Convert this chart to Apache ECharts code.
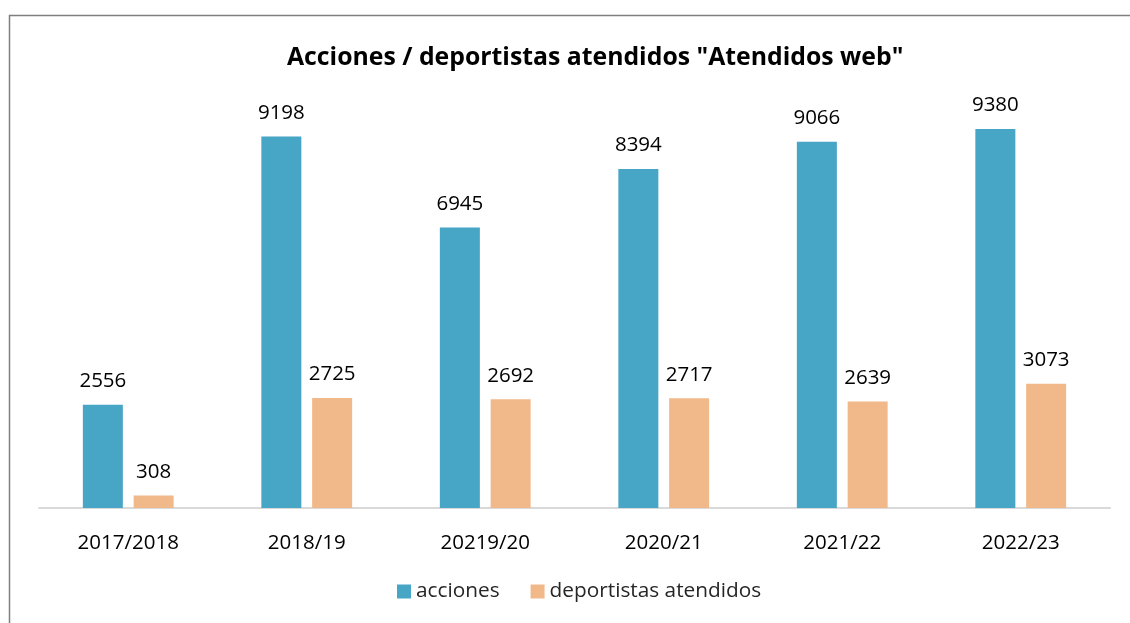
<!DOCTYPE html>
<html>
<head>
<meta charset="UTF-8">
<title>Acciones / deportistas atendidos</title>
<script src="https://cdn.jsdelivr.net/npm/echarts@6/dist/echarts.min.js"></script>
<style>
  html, body { margin: 0; padding: 0; background: #fff; }
  #chart { width: 1130px; height: 623px; }
</style>
</head>
<body>
<div id="chart"></div>
<script>
var temporadas = ['2017/2018', '2018/19', '20219/20', '2020/21', '2021/22', '2022/23'];
var acciones = [2556, 9198, 6945, 8394, 9066, 9380];
var deportistas = [308, 2725, 2692, 2717, 2639, 3073];

var fuente = '"Open Sans", "Noto Sans", sans-serif';
var myChart = echarts.init(document.getElementById('chart'));

// el cuadro original es mas ancho que la ventana: titulo y leyenda van centrados en x=595
var option = {
    animation: false,
    textStyle: { fontFamily: fuente },
    title: {
        text: 'Acciones / deportistas atendidos "Atendidos web"',
        left: 282,
        top: 40,
        textStyle: { fontSize: 24.8, fontWeight: 'bold', color: '#000', fontFamily: fuente }
    },
    legend: {
        data: ['acciones', 'deportistas atendidos'],
        bottom: 16,
        left: 392,
        itemWidth: 14,
        itemHeight: 14,
        itemGap: 31,
        icon: 'rect',
        textStyle: { fontSize: 20.8, color: '#262626', fontFamily: fuente }
    },
    grid: {
        left: 39,
        right: 20,
        top: 104,
        bottom: 115
    },
    xAxis: {
        type: 'category',
        data: temporadas,
        axisLine: { lineStyle: { color: '#d9d9d9', width: 2 } },
        axisTick: { show: false },
        axisLabel: { fontSize: 20.5, color: '#000', margin: 25, fontFamily: fuente }
    },
    yAxis: {
        type: 'value',
        min: 0,
        max: 10000,
        show: false,
        splitLine: { show: false }
    },
    series: [
        {
            name: 'acciones',
            type: 'bar',
            data: acciones,
            barWidth: 40,
            barGap: '27%',
            itemStyle: { color: '#47a5c5' },
            label: { show: true, position: 'top', distance: 13, fontSize: 20.5, color: '#000', fontFamily: fuente }
        },
        {
            name: 'deportistas atendidos',
            type: 'bar',
            data: deportistas,
            barWidth: 40,
            itemStyle: { color: '#f1b88a' },
            label: { show: true, position: 'top', distance: 13, fontSize: 20.5, color: '#000', fontFamily: fuente }
        }
    ],
    graphic: [
        {
            type: 'rect',
            silent: true,
            shape: { x: 9.5, y: 15.5, width: 1300, height: 800 },
            style: { fill: 'none', stroke: '#7f7f7f', lineWidth: 1.5 }
        }
    ]
};
myChart.setOption(option);
</script>
</body>
</html>
